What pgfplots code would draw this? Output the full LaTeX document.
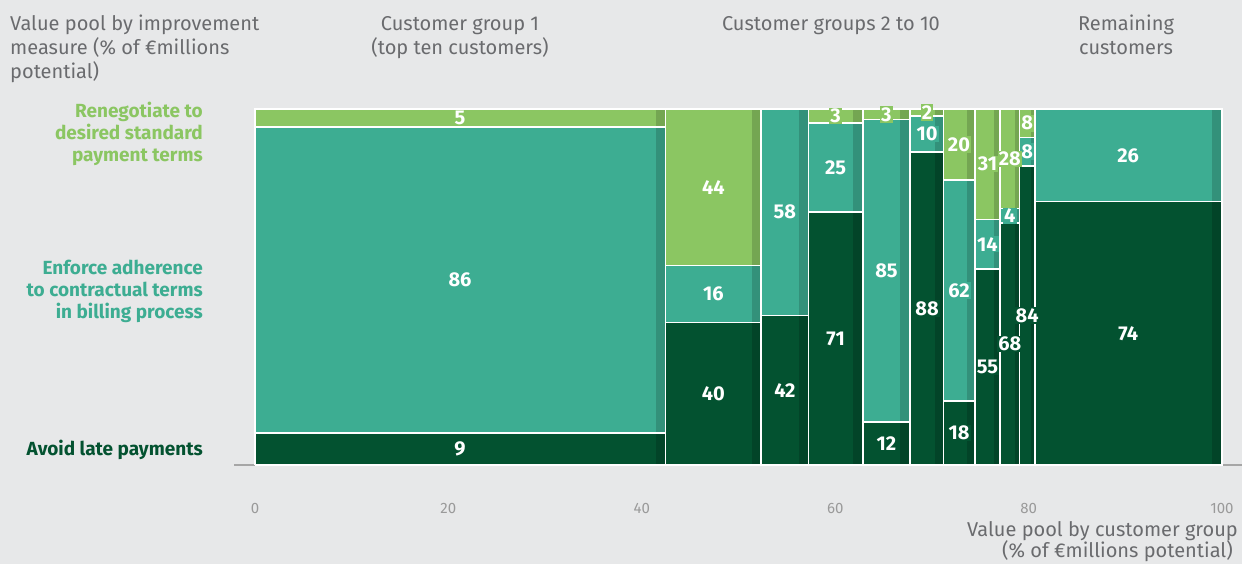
\documentclass[border=0pt]{standalone}
\usepackage{pgfplots}
\pgfplotsset{compat=1.18}
\usepackage{fontspec}
\setmainfont{Fira Sans}
\definecolor{cRen}{HTML}{8BC662}
\definecolor{cEnf}{HTML}{3DAD92}
\definecolor{cLate}{HTML}{035230}
\definecolor{bgc}{HTML}{E7E8E9}
\definecolor{txtgrey}{HTML}{6A6B6E}
\definecolor{tickgrey}{HTML}{9A9A9A}
\definecolor{axgrey}{HTML}{A6A6A6}

% one rectangle of the mosaic: x0 x1 y0 y1 colour
\newcommand\seg[5]{%
  \addplot[fill=#5, draw=none] coordinates {(#1,#3) (#2,#3) (#2,#4) (#1,#4)};
  \addplot[fill=black, fill opacity=0.16, draw=none] coordinates {(\xs,#3) (#2,#3) (#2,#4) (\xs,#4)};
  \addplot[draw=white, line width=1.6pt] coordinates {(#1,#3) (#2,#3) (#2,#4) (#1,#4) (#1,#3)};
}
% one column: x0 x1 late enforce renegotiate
\newcommand\mcol[5]{%
  \pgfmathsetmacro\ya{#3}%
  \pgfmathsetmacro\yb{#3+#4}%
  \pgfmathsetmacro\xs{#2-min(1,0.24*(#2-#1))}%
  \seg{#1}{#2}{0}{\ya}{cLate}%
  \seg{#1}{#2}{\ya}{\yb}{cEnf}%
  \ifdim #5pt>0pt \seg{#1}{#2}{\yb}{100}{cRen}\fi
}
\pgfplotsset{
  lbl/.style={only marks, mark=none, nodes near coords, point meta=explicit symbolic,
    every node near coord/.append style={anchor=center, text=white, fill=#1,
      inner sep=1.2pt, font=\fontsize{20}{22}\selectfont\bfseries}}
}

\begin{document}
\begin{tikzpicture}
\fill[bgc] (0,0) rectangle (1242pt,564pt);
\path[use as bounding box] (0,0) rectangle (1242pt,564pt);

\begin{axis}[
  at={(234pt,99pt)}, anchor=south west,
  scale only axis, width=1008pt, height=356pt,
  xmin=-2.17, xmax=102.07, ymin=0, ymax=100,
  axis x line=bottom, axis y line=none,
  x axis line style={draw=axgrey, line width=2pt, -},
  xtick={0,20,40,60,80,100}, major tick length=0pt,
  xtick style={draw=none},
  /pgf/number format/assume math mode=true,
  xticklabel style={font=\fontsize{15}{18}\selectfont, text=tickgrey, anchor=base, yshift=-49pt},
  clip=false,
]
\mcol{0}{42.45}{9}{86}{5}
\mcol{42.45}{52.35}{40}{16}{44}
\mcol{52.35}{57.25}{42}{58}{0}
\mcol{57.25}{62.85}{71}{25}{3}
\mcol{62.85}{67.75}{12}{85}{3}
\mcol{67.75}{71.2}{88}{10}{2}
\mcol{71.2}{74.45}{18}{62}{20}
\mcol{74.45}{77.05}{55}{14}{31}
\mcol{77.05}{79.05}{68}{4}{28}
\mcol{79.05}{80.65}{84}{8}{8}
\mcol{80.65}{100}{74}{26}{0}

% value labels
\addplot[lbl=cLate] table[meta=l] {
x y l
21.2 4.5 9
47.4 20 40
54.8 21 42
60.05 35.5 71
65.3 6 12
69.5 44 88
72.8 9 18
75.75 27.5 55
78.05 34 68
79.85 42 84
90.3 37 74
};
\addplot[lbl=cEnf] table[meta=l] {
x y l
21.2 52 86
47.4 48 16
54.8 71 58
60.05 83.5 25
65.3 54.5 85
69.5 93 10
72.8 49 62
75.75 62 14
78.05 70 4
79.85 88 8
90.3 87 26
};
\addplot[lbl=cRen] table[meta=l] {
x y l
21.2 97.5 5
47.4 78 44
60.05 98 3
65.3 98.5 3
69.5 99 2
72.8 90 20
75.75 84.5 31
78.05 86 28
79.85 96 8
};
\end{axis}

% headings
\begin{scope}[every node/.style={inner sep=0pt, text=txtgrey, font=\fontsize{20}{24}\selectfont}]
\node[anchor=base west] at (10pt,533pt) {Value pool by improvement};
\node[anchor=base west] at (10pt,509pt) {measure (\% of €millions};
\node[anchor=base west] at (10pt,485pt) {potential)};
\node[anchor=base] at (460pt,533pt) {Customer group 1};
\node[anchor=base] at (460pt,509pt) {(top ten customers)};
\node[anchor=base] at (831pt,533pt) {Customer groups 2 to 10};
\node[anchor=base] at (1126pt,533pt) {Remaining};
\node[anchor=base] at (1126pt,509pt) {customers};
\node[anchor=base east] at (1238pt,27pt) {Value pool by customer group};
\node[anchor=base east] at (1233pt,6pt) {(\% of €millions potential)};
\end{scope}

\begin{scope}[every node/.style={inner sep=0pt, anchor=base east, font=\fontsize{19}{22}\selectfont\bfseries}]
\node[text=cRen] at (203pt,446pt) {Renegotiate to};
\node[text=cRen] at (203pt,424pt) {desired standard};
\node[text=cRen] at (203pt,402pt) {payment terms};
\node[text=cEnf] at (203pt,289pt) {Enforce adherence};
\node[text=cEnf] at (203pt,267pt) {to contractual terms};
\node[text=cEnf] at (203pt,245pt) {in billing process};
\node[text=cLate] at (203pt,108pt) {Avoid late payments};
\end{scope}
\end{tikzpicture}
\end{document}
